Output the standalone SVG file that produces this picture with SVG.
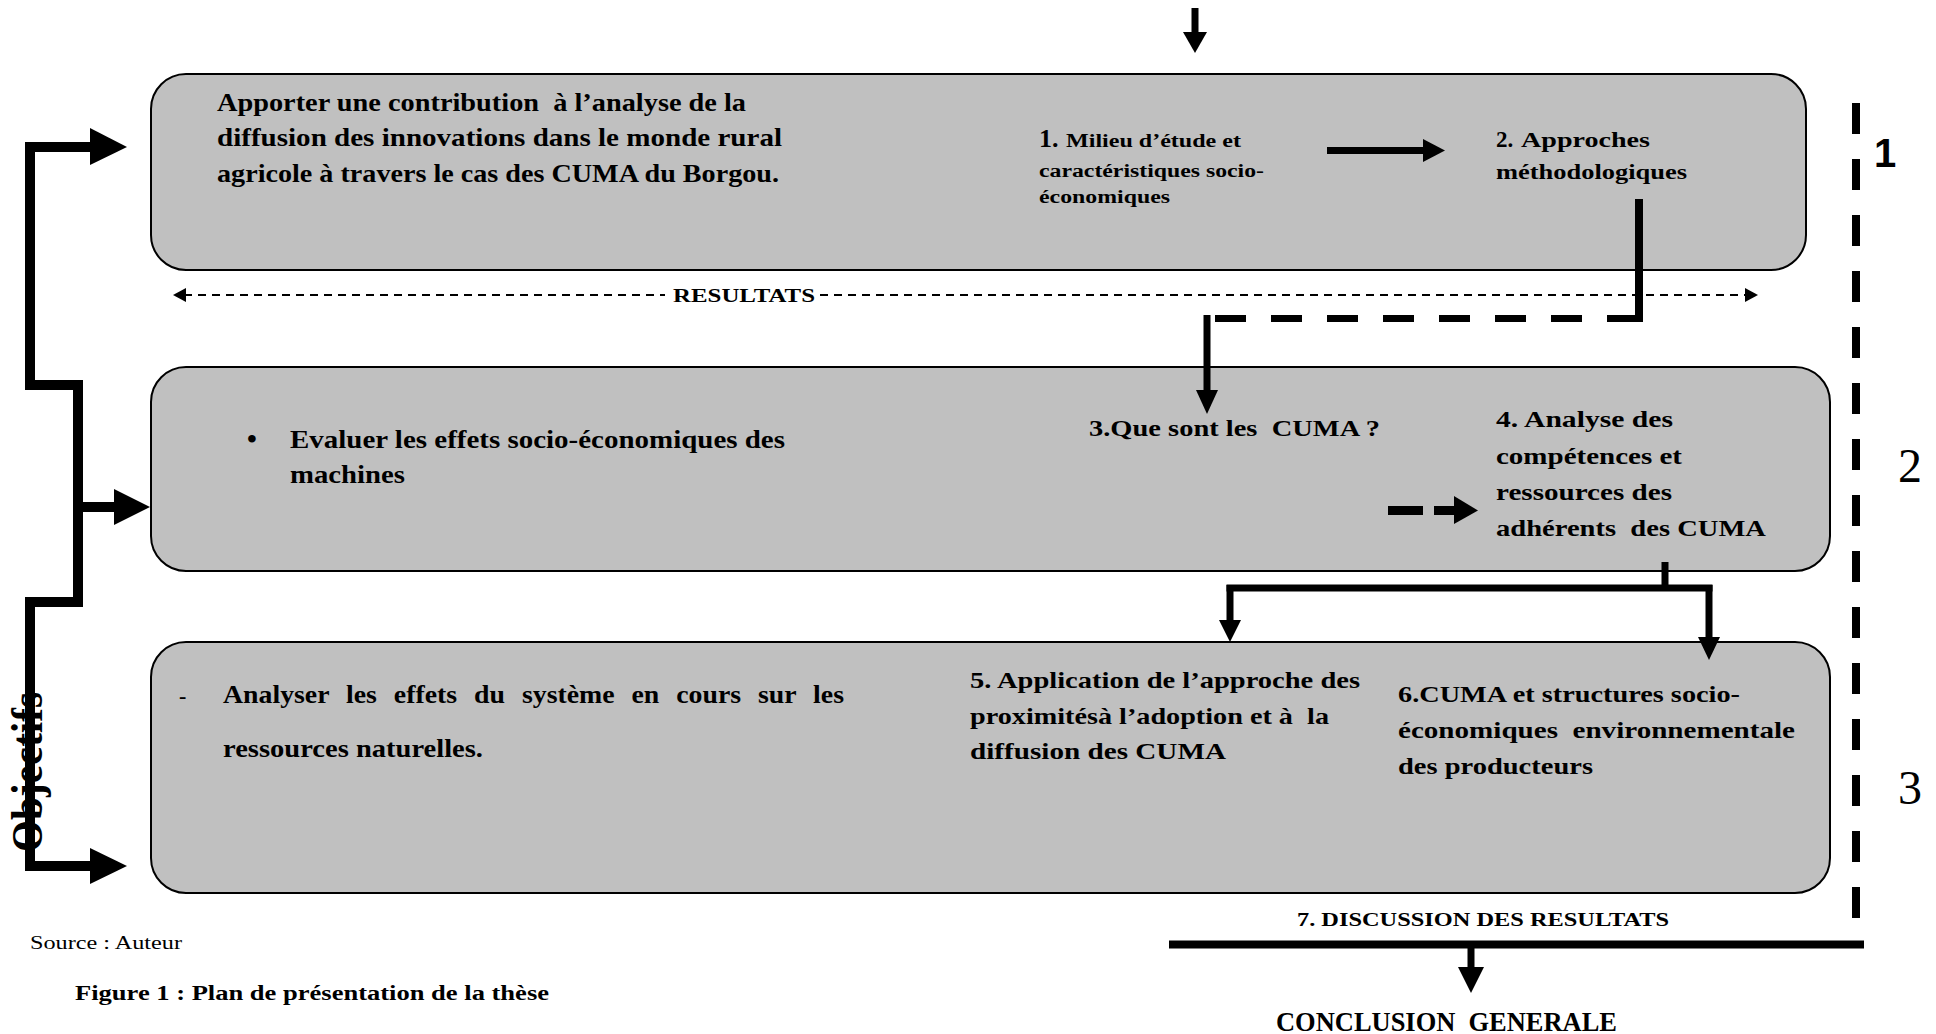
<svg xmlns="http://www.w3.org/2000/svg" width="1936" height="1034" viewBox="0 0 1936 1034">
  <style>
    .box { fill: #c0c0c0; stroke: #000; stroke-width: 2; }
    .t { font-family: "Liberation Serif", "Times New Roman", serif; font-weight: bold; fill: #000; }
    .r { font-weight: normal; }
    .sans { font-family: "Liberation Sans", Arial, sans-serif; font-weight: bold; fill: #000; }
    .ln { stroke: #000; fill: none; stroke-linecap: butt; }
    .hd { fill: #000; }
  </style>
  <rect width="1936" height="1034" fill="#fff"/>

  <!-- Part 1: general objective, study area and methodology -->
  <g id="node-part1">
    <rect class="box" x="151" y="74" width="1655" height="196" rx="35" ry="35"/>
    <text class="t" x="217" y="111" font-size="25" textLength="529" lengthAdjust="spacingAndGlyphs" xml:space="preserve">Apporter une contribution  à l’analyse de la</text>
    <text class="t" x="217" y="146" font-size="25" textLength="565" lengthAdjust="spacingAndGlyphs">diffusion des innovations dans le monde rural</text>
    <text class="t" x="217" y="182" font-size="25" textLength="562" lengthAdjust="spacingAndGlyphs">agricole à travers le cas des CUMA du Borgou.</text>
  </g>
  <g id="node-1-milieu">
    <text class="t" x="1039" y="147" font-size="26">1.</text>
    <text class="t" x="1066" y="147" font-size="18" textLength="175" lengthAdjust="spacingAndGlyphs">Milieu d’étude et</text>
    <text class="t" x="1039" y="177" font-size="18" textLength="225" lengthAdjust="spacingAndGlyphs">caractéristiques socio-</text>
    <text class="t" x="1039" y="203" font-size="18" textLength="131" lengthAdjust="spacingAndGlyphs">économiques</text>
  </g>
  <g id="node-2-approches">
    <text class="t" x="1496" y="147" font-size="23">2.</text>
    <text class="t" x="1521" y="147" font-size="22" textLength="129" lengthAdjust="spacingAndGlyphs">Approches</text>
    <text class="t" x="1496" y="179" font-size="22" textLength="191" lengthAdjust="spacingAndGlyphs">méthodologiques</text>
  </g>

  <!-- Part 2: socio-economic effects -->
  <g id="node-part2">
    <rect class="box" x="151" y="367" width="1679" height="204" rx="35" ry="35"/>
    <text class="t" x="247" y="448" font-size="28">•</text>
    <text class="t" x="290" y="448" font-size="25" textLength="495" lengthAdjust="spacingAndGlyphs">Evaluer les effets socio-économiques des</text>
    <text class="t" x="290" y="483" font-size="25" textLength="115" lengthAdjust="spacingAndGlyphs">machines</text>
  </g>
  <g id="node-3-cuma">
    <text class="t" x="1089" y="436" font-size="23" textLength="291" lengthAdjust="spacingAndGlyphs" xml:space="preserve">3.Que sont les  CUMA ?</text>
  </g>
  <g id="node-4-analyse">
    <text class="t" x="1496" y="427" font-size="23" textLength="177" lengthAdjust="spacingAndGlyphs">4. Analyse des</text>
    <text class="t" x="1496" y="464" font-size="23" textLength="186" lengthAdjust="spacingAndGlyphs">compétences et</text>
    <text class="t" x="1496" y="500" font-size="23" textLength="176" lengthAdjust="spacingAndGlyphs">ressources des</text>
    <text class="t" x="1496" y="536" font-size="23" textLength="270" lengthAdjust="spacingAndGlyphs" xml:space="preserve">adhérents  des CUMA</text>
  </g>

  <!-- Part 3: natural resources, proximity approach, structures -->
  <g id="node-part3">
    <rect class="box" x="151" y="642" width="1679" height="251" rx="35" ry="35"/>
    <text class="t" x="179" y="703" font-size="22">-</text>
    <text class="t" x="223" y="703" font-size="25" word-spacing="9" textLength="621" lengthAdjust="spacingAndGlyphs">Analyser les effets du système en cours sur les</text>
    <text class="t" x="223" y="757" font-size="25" textLength="260" lengthAdjust="spacingAndGlyphs">ressources naturelles.</text>
  </g>
  <g id="node-5-proximite">
    <text class="t" x="970" y="688" font-size="24" textLength="390" lengthAdjust="spacingAndGlyphs">5. Application de l’approche des</text>
    <text class="t" x="970" y="724" font-size="24" textLength="359" lengthAdjust="spacingAndGlyphs" xml:space="preserve">proximitésà l’adoption et à  la</text>
    <text class="t" x="970" y="759" font-size="24" textLength="256" lengthAdjust="spacingAndGlyphs">diffusion des CUMA</text>
  </g>
  <g id="node-6-structures">
    <text class="t" x="1398" y="702" font-size="24" textLength="342" lengthAdjust="spacingAndGlyphs">6.CUMA et structures socio-</text>
    <text class="t" x="1398" y="738" font-size="24" textLength="397" lengthAdjust="spacingAndGlyphs" xml:space="preserve">économiques  environnementale</text>
    <text class="t" x="1398" y="774" font-size="24" textLength="195" lengthAdjust="spacingAndGlyphs">des producteurs</text>
  </g>

  <!-- Discussion and conclusion -->
  <g id="node-7-discussion">
    <text class="t" x="1297" y="926" font-size="19" textLength="372" lengthAdjust="spacingAndGlyphs">7. DISCUSSION DES RESULTATS</text>
  </g>
  <g id="node-conclusion">
    <text class="t" x="1276" y="1031" font-size="28" textLength="341" lengthAdjust="spacingAndGlyphs" xml:space="preserve">CONCLUSION  GENERALE</text>
  </g>

  <!-- Side labels -->
  <g id="label-objectifs">
    <text class="t" transform="translate(42,852) rotate(-90)" font-size="44" textLength="160" lengthAdjust="spacingAndGlyphs">Objectifs</text>
  </g>
  <g id="label-parts">
    <text class="sans" x="1874" y="167" font-size="40">1</text>
    <text class="t r" x="1898" y="482" font-size="48">2</text>
    <text class="t r" x="1898" y="804" font-size="48">3</text>
  </g>
  <g id="caption">
    <text class="t r" x="30" y="949" font-size="18" textLength="152" lengthAdjust="spacingAndGlyphs">Source : Auteur</text>
    <text class="t" x="75" y="1000" font-size="20" textLength="474" lengthAdjust="spacingAndGlyphs">Figure 1 : Plan de présentation de la thèse</text>
  </g>
  <g id="label-resultats">
    <text class="t" x="673" y="302" font-size="19" textLength="142" lengthAdjust="spacingAndGlyphs">RESULTATS</text>
  </g>

  <!-- Connectors -->
  <g id="connectors">
    <!-- entry arrow at the top -->
    <line class="ln" x1="1195" y1="8" x2="1195" y2="33" stroke-width="7"/>
    <polygon class="hd" points="1183,32 1207,32 1195,53"/>

    <!-- 1 -> 2 -->
    <line class="ln" x1="1327" y1="150.5" x2="1425" y2="150.5" stroke-width="7"/>
    <polygon class="hd" points="1423,139 1445,150.5 1423,162"/>

    <!-- 2 -> 3 (solid drop, dashed run, solid drop) -->
    <line class="ln" x1="1639" y1="199" x2="1639" y2="322" stroke-width="8"/>
    <line class="ln" x1="1215" y1="318.5" x2="1643" y2="318.5" stroke-width="7" stroke-dasharray="31 25"/>
    <line class="ln" x1="1207" y1="315" x2="1207" y2="392" stroke-width="7"/>
    <polygon class="hd" points="1196,390 1218,390 1207,414"/>

    <!-- RESULTATS double-headed dashed line -->
    <line class="ln" x1="184" y1="295" x2="665" y2="295" stroke-width="2" stroke-dasharray="8 6"/>
    <line class="ln" x1="820" y1="295" x2="1747" y2="295" stroke-width="2" stroke-dasharray="8 6"/>
    <polygon class="hd" points="186,288 173,295 186,302"/>
    <polygon class="hd" points="1745,288 1758,295 1745,302"/>

    <!-- dashed arrow towards 4 -->
    <rect class="hd" x="1388" y="506" width="35" height="9"/>
    <rect class="hd" x="1434" y="506" width="22" height="9"/>
    <polygon class="hd" points="1454,496 1478,510.5 1454,524"/>

    <!-- 4 -> 5 and 6 -->
    <line class="ln" x1="1665" y1="562" x2="1665" y2="591" stroke-width="7"/>
    <line class="ln" x1="1226.5" y1="588" x2="1712.5" y2="588" stroke-width="7"/>
    <line class="ln" x1="1230" y1="585" x2="1230" y2="622" stroke-width="7"/>
    <polygon class="hd" points="1219,620 1241,620 1230,642"/>
    <line class="ln" x1="1709" y1="585" x2="1709" y2="639" stroke-width="7"/>
    <polygon class="hd" points="1698,637 1720,637 1709,660"/>

    <!-- part divider on the right -->
    <line class="ln" x1="1856" y1="103" x2="1856" y2="918" stroke-width="8" stroke-dasharray="31 25"/>

    <!-- discussion bar and arrow to conclusion -->
    <line class="ln" x1="1169" y1="944.5" x2="1864" y2="944.5" stroke-width="8"/>
    <line class="ln" x1="1471" y1="944" x2="1471" y2="969" stroke-width="7"/>
    <polygon class="hd" points="1458,967 1484,967 1471,993"/>

    <!-- objectives bracket -->
    <path class="ln" d="M 92 147 H 30 V 385 H 78 V 602 H 30 V 866 H 92" stroke-width="10" stroke-linejoin="miter"/>
    <polygon class="hd" points="90,128 127,147 90,165"/>
    <line class="ln" x1="78" y1="507" x2="116" y2="507" stroke-width="10"/>
    <polygon class="hd" points="114,489 150,507 114,525"/>
    <polygon class="hd" points="90,848 127,866 90,884"/>
  </g>
</svg>
